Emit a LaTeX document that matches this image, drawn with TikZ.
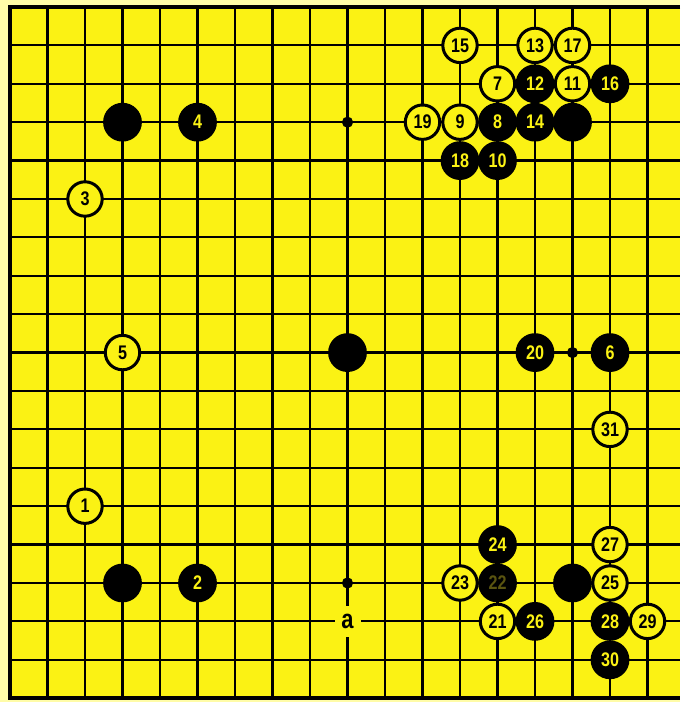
\documentclass[tikz,border=0pt]{standalone}
\usepackage{fontspec}
\newfontfamily\stonefont[FakeStretch=0.82]{Liberation Sans}
\definecolor{boardyellow}{HTML}{FBF214}
\definecolor{paleyellow}{HTML}{FFFCA8}
\definecolor{fadedlabel}{HTML}{5A5410}

\begin{document}
\begin{tikzpicture}[
  x=0.9375cm, y=0.96cm,
  every node/.style={font=\stonefont\bfseries\fontsize{14}{14}\selectfont},
  blackstone/.style={circle, fill=black, minimum size=0.97cm, inner sep=0pt, text=boardyellow},
  whitestone/.style={circle, draw=black, fill=boardyellow, line width=0.075cm, minimum size=0.86cm, inner sep=0pt, text=black},
  hoshi/.style={circle, fill=black, minimum size=0.28cm, inner sep=0pt},
  gridline/.style={line width=0.055cm},
  edgeline/.style={line width=0.1cm},
]
\path[use as bounding box, fill=paleyellow] (-0.2667,-0.099) rectangle (17.867,18.182);

% board
\fill[boardyellow] (0,0) rectangle (17.867,18);
\draw[gridline, step=1] (0,0) grid (17.867,18);
\draw[edgeline] (17.867,18) -- (0,18) -- (0,0) -- (17.867,0);

% star points
\node[hoshi] (h1) at (9,15) {};
\node[hoshi] (h2) at (9,3) {};
\node[hoshi] (h3) at (15,9) {};
\node[fill=boardyellow, minimum width=0.65cm, minimum height=0.78cm, inner sep=0pt, font=\stonefont\bfseries\fontsize{19}{19}\selectfont] (a) at (9,2) {a};

% stones already on the board
\node[blackstone] (b1) at (3,15) {};
\node[blackstone] (b2) at (15,15) {};
\node[blackstone] (b3) at (9,9) {};
\node[blackstone] (b4) at (3,3) {};
\node[blackstone] (b5) at (15,3) {};

% moves
\node[whitestone] (s1) at (2,5) {1};
\node[blackstone] (s2) at (5,3) {2};
\node[whitestone] (s3) at (2,13) {3};
\node[blackstone] (s4) at (5,15) {4};
\node[whitestone] (s5) at (3,9) {5};
\node[blackstone] (s6) at (16,9) {6};
\node[whitestone] (s7) at (13,16) {7};
\node[blackstone] (s8) at (13,15) {8};
\node[whitestone] (s9) at (12,15) {9};
\node[blackstone] (s10) at (13,14) {10};
\node[whitestone] (s11) at (15,16) {11};
\node[blackstone] (s12) at (14,16) {12};
\node[whitestone] (s13) at (14,17) {13};
\node[blackstone] (s14) at (14,15) {14};
\node[whitestone] (s15) at (12,17) {15};
\node[blackstone] (s16) at (16,16) {16};
\node[whitestone] (s17) at (15,17) {17};
\node[blackstone] (s18) at (12,14) {18};
\node[whitestone] (s19) at (11,15) {19};
\node[blackstone] (s20) at (14,9) {20};
\node[whitestone] (s21) at (13,2) {21};
\node[blackstone, text=fadedlabel] (s22) at (13,3) {22};
\node[whitestone] (s23) at (12,3) {23};
\node[blackstone] (s24) at (13,4) {24};
\node[whitestone] (s25) at (16,3) {25};
\node[blackstone] (s26) at (14,2) {26};
\node[whitestone] (s27) at (16,4) {27};
\node[blackstone] (s28) at (16,2) {28};
\node[whitestone] (s29) at (17,2) {29};
\node[blackstone] (s30) at (16,1) {30};
\node[whitestone] (s31) at (16,7) {31};
\end{tikzpicture}
\end{document}
